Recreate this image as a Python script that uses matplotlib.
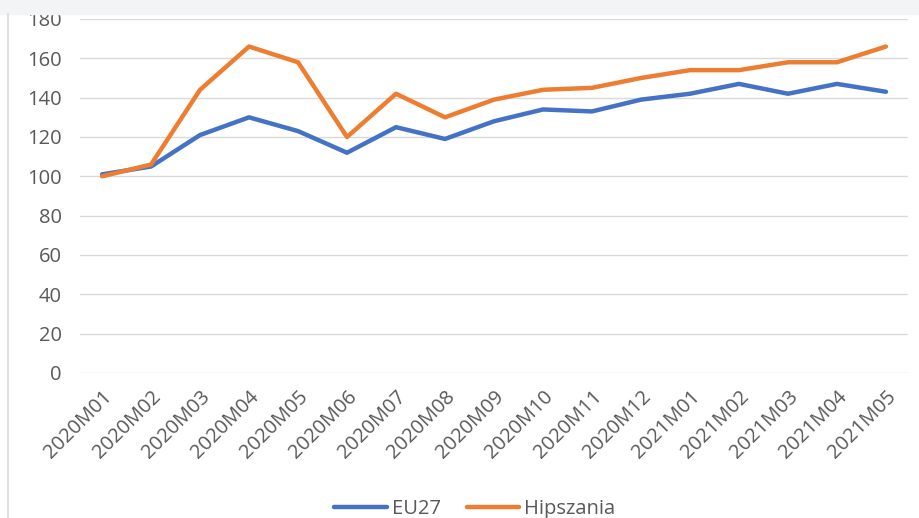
import matplotlib.pyplot as plt
from matplotlib.patches import Rectangle
from matplotlib.lines import Line2D

# Data
months = ['2020M01', '2020M02', '2020M03', '2020M04', '2020M05', '2020M06',
          '2020M07', '2020M08', '2020M09', '2020M10', '2020M11', '2020M12',
          '2021M01', '2021M02', '2021M03', '2021M04', '2021M05']
eu27 = [101, 105, 121, 130, 123, 112, 125, 119, 128, 134, 133, 139,
        142, 147, 142, 147, 143]
hiszpania = [100, 106, 144, 166, 158, 120, 142, 130, 139, 144, 145, 150,
             154, 154, 158, 158, 166]

plt.rcParams['font.family'] = ['Open Sans', 'DejaVu Sans']

fig = plt.figure(figsize=(9.2, 5.18), dpi=100)
ax = fig.add_axes([80/920, 1 - 373/518, 828/920, 354/518])

x = range(len(months))
ax.plot(x, eu27, color='#4472C4', lw=3.2, label='EU27', solid_capstyle='round')
ax.plot(x, hiszpania, color='#ED7D31', lw=3.2, label='Hipszania', solid_capstyle='round')

ax.set_ylim(0, 180)
ax.set_xlim(-0.45, len(months) - 0.55)
ax.set_yticks(range(0, 181, 20))
ax.set_xticks(list(x))
ax.set_xticklabels(months, rotation=45, ha='right', rotation_mode='anchor')
ax.grid(axis='y', color='#d9d9d9', lw=1)
ax.set_axisbelow(True)
ax.tick_params(length=0, colors='#595959', labelsize=14.5)
ax.tick_params(axis='y', pad=13)
ax.tick_params(axis='x', pad=10)
for s in ax.spines.values():
    s.set_visible(False)

# legend at the bottom (partly cut off)
fig.legend(loc='center', bbox_to_anchor=(0.5 + 15/920, 1 - 509/518), ncol=2,
           frameon=False, fontsize=14.5, handlelength=2.6, handletextpad=0.25,
           columnspacing=1.3, labelcolor='#595959')

# screenshot framing: gray strip on top, thin border on the left
fig.add_artist(Rectangle((0, 1 - 14/518), 1, 14/518, transform=fig.transFigure,
                         color='#f3f4f6', zorder=10))
fig.add_artist(Line2D([8/920, 8/920], [0, 1 - 14/518], transform=fig.transFigure,
                      color='#d9d9d9', lw=1.2, zorder=10))

plt.savefig('out.png', dpi=100)
